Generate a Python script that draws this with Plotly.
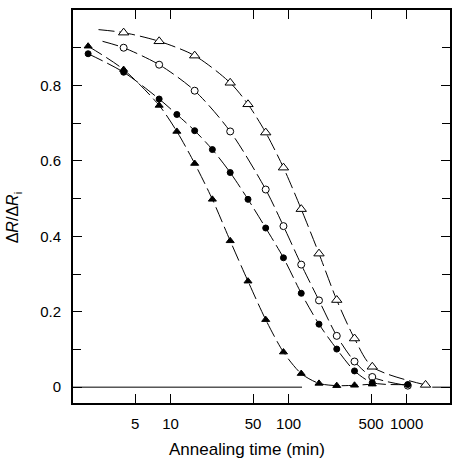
import plotly.graph_objects as go

# annealing times (min)
t_open_tri = [4, 8, 16, 32, 45.3, 64, 90.5, 128, 181, 256, 362, 512, 1448]
v_open_tri = [0.940, 0.917, 0.879, 0.807, 0.750, 0.675, 0.582, 0.472, 0.354, 0.231, 0.129, 0.054, 0.006]

t_open_circ = [4, 8, 16, 32, 64, 90.5, 128, 181, 256, 362, 512, 1024]
v_open_circ = [0.900, 0.855, 0.786, 0.678, 0.524, 0.427, 0.325, 0.230, 0.136, 0.068, 0.027, 0.004]

t_fill_circ = [2, 4, 8, 11.3, 16, 22.6, 32, 45.3, 64, 90.5, 128, 181, 256, 362, 512, 1024]
v_fill_circ = [0.884, 0.835, 0.764, 0.723, 0.680, 0.630, 0.569, 0.498, 0.422, 0.343, 0.249, 0.167, 0.101, 0.043, 0.012, 0.007]

t_fill_tri = [2, 4, 8, 11.3, 16, 22.6, 32, 45.3, 64, 90.5, 128, 181, 256, 362, 512]
v_fill_tri = [0.904, 0.842, 0.747, 0.678, 0.593, 0.498, 0.388, 0.281, 0.179, 0.093, 0.036, 0.010, 0.004, 0.005, 0.008]

# start points of the drawn curves (left of the first measured point)
curve_start_open_tri = (2.45, 0.948)
curve_start_open_circ = (2.65, 0.917)

x_ticks = [5, 10, 50, 100, 500, 1000]
x_tick_text = ["5", "10", "50", "100", "500", "1000"]
y_ticks = [0, 0.2, 0.4, 0.6, 0.8]
y_tick_text = ["0", "0.2", "0.4", "0.6", "0.8"]

FONT = "Liberation Sans, Arial, sans-serif"
DASH = "16px,5px"

fig = go.Figure()

# zero line segments
fig.add_shape(type="line", xref="x", yref="y", x0=1.4, x1=130, y0=0, y1=0,
              line=dict(color="black", width=1))
fig.add_shape(type="line", xref="x", yref="y", x0=1650, x1=2500, y0=0, y1=0,
              line=dict(color="black", width=1))

def curve(tx, ty, start=None):
    xs = list(tx)
    ys = list(ty)
    if start is not None:
        xs = [start[0]] + xs
        ys = [start[1]] + ys
    fig.add_trace(go.Scatter(x=xs, y=ys, mode="lines",
                             line=dict(color="black", width=1, dash=DASH,
                                       shape="spline", smoothing=0.8),
                             hoverinfo="skip", showlegend=False))

curve(t_open_tri, v_open_tri, curve_start_open_tri)
curve(t_open_circ, v_open_circ, curve_start_open_circ)
curve(t_fill_circ, v_fill_circ)
curve(t_fill_tri, v_fill_tri)

def markers(tx, ty, symbol, size, fill):
    fig.add_trace(go.Scatter(x=tx, y=ty, mode="markers",
                             marker=dict(symbol=symbol, size=size, color=fill,
                                         line=dict(color="black", width=1)),
                             showlegend=False))

markers(t_open_tri, v_open_tri, "triangle-up", 9, "white")
markers(t_open_circ, v_open_circ, "circle", 7, "white")
markers(t_fill_tri, v_fill_tri, "triangle-up", 7, "black")
markers(t_fill_circ, v_fill_circ, "circle", 6, "black")

fig.update_layout(
    width=453, height=461,
    margin=dict(l=73, r=1, t=10, b=58),
    paper_bgcolor="white", plot_bgcolor="white",
    font=dict(family=FONT, size=14, color="black"),
    xaxis=dict(type="log", range=[0.173, 3.368],
               tickvals=x_ticks, ticktext=x_tick_text,
               ticks="inside", ticklen=9, tickwidth=1, tickcolor="black",
               showline=True, linewidth=2, linecolor="black", mirror="ticks",
               showgrid=False, zeroline=False, tickfont=dict(size=15),
               ticklabelstandoff=6),
    yaxis=dict(range=[-0.042, 1.0],
               tickvals=y_ticks, ticktext=y_tick_text,
               ticks="inside", ticklen=9, tickwidth=1, tickcolor="black",
               minor=dict(dtick=0.1, ticks="inside", ticklen=8, tickwidth=1, tickcolor="black"),
               showline=True, linewidth=2, linecolor="black", mirror="ticks",
               showgrid=False, zeroline=False, tickfont=dict(size=15),
               ticklabelstandoff=7),
    annotations=[
        dict(text="Annealing time (min)", xref="paper", yref="paper",
             x=(248 - 73) / 379, y=-(449 - 403) / 393, xanchor="center", yanchor="middle",
             showarrow=False, font=dict(family=FONT, size=17)),
        dict(text="Δ<i>R</i>/Δ<i>R</i><sub>i</sub>", xref="paper", yref="paper",
             x=-(73 - 13) / 379, y=(403 - 218) / 393, xanchor="center", yanchor="middle",
             textangle=-90, showarrow=False, font=dict(family=FONT, size=16)),
    ],
)

fig.write_html("out.html")
